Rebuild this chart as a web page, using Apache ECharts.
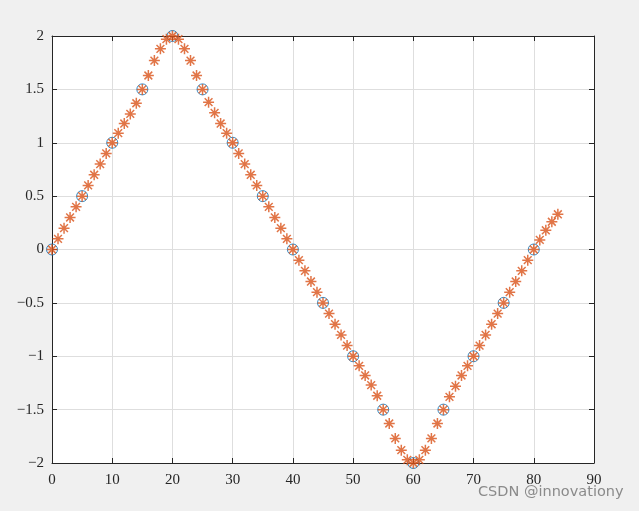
<!DOCTYPE html>
<html>
<head>
<meta charset="utf-8">
<script src="https://cdn.jsdelivr.net/npm/echarts@6/dist/echarts.min.js"></script>
<style>
html,body{margin:0;padding:0;background:#f0f0f0;}
#c{width:639px;height:511px;}
</style>
</head>
<body>
<div id="c"></div>
<script>
// Sample points (circles)
const circleX = [0,5,10,15,20,25,30,35,40,45,50,55,60,65,70,75,80];
const circleY = [0,0.5,1,1.5,2,1.5,1,0.5,0,-0.5,-1,-1.5,-2,-1.5,-1,-0.5,0];
// Query points (asterisks), x = 0..84
const starX = [0,1,2,3,4,5,6,7,8,9,10,11,12,13,14,15,16,17,18,19,20,21,22,23,24,25,26,27,28,29,30,31,32,33,34,35,36,37,38,39,40,41,42,43,44,45,46,47,48,49,50,51,52,53,54,55,56,57,58,59,60,61,62,63,64,65,66,67,68,69,70,71,72,73,74,75,76,77,78,79,80,81,82,83,84];
const starY = [
  0,0.1,0.2,0.3,0.4,0.5,0.6,0.7,0.8,0.9,
  1.0,1.09,1.18,1.27,1.37,1.5,1.63,1.77,1.88,1.97,
  2.0,1.97,1.88,1.77,1.63,1.5,1.38,1.28,1.18,1.09,
  1.0,0.9,0.8,0.7,0.6,0.5,0.4,0.3,0.2,0.1,
  0,-0.1,-0.2,-0.3,-0.4,-0.5,-0.6,-0.7,-0.8,-0.9,
  -1.0,-1.09,-1.18,-1.27,-1.37,-1.5,-1.63,-1.77,-1.88,-1.97,
  -2.0,-1.97,-1.88,-1.77,-1.63,-1.5,-1.38,-1.28,-1.18,-1.09,
  -1.0,-0.9,-0.8,-0.7,-0.6,-0.5,-0.4,-0.3,-0.2,-0.1,
  0,0.09,0.18,0.26,0.33
];
const xTicks = {min:0,max:90,interval:10};
const yTicks = {min:-2,max:2,interval:0.5};

const axisColor = '#262626';
const gridColor = '#dedede';
const fontFam = '"Liberation Serif","DejaVu Serif",serif';
const fmt = v => String(v).replace('-', '\u2212');

const asterisk = 'path://M0,-10L0,10M-10,0L10,0M-7.07,-7.07L7.07,7.07M-7.07,7.07L7.07,-7.07';

const chart = echarts.init(document.getElementById('c'));
chart.setOption({
  backgroundColor: '#f0f0f0',
  animation: false,
  grid: {left:52, right:45, top:36, bottom:48, show:true, backgroundColor:'#ffffff', borderWidth:0},
  xAxis: [{
    type:'value', min:xTicks.min, max:xTicks.max, interval:xTicks.interval, position:'bottom',
    axisLine:{show:true, onZero:false, lineStyle:{color:axisColor, width:1}},
    axisTick:{show:true, inside:true, length:5, lineStyle:{color:axisColor}},
    splitLine:{show:true, lineStyle:{color:gridColor, width:1}},
    axisLabel:{color:axisColor, fontFamily:fontFam, fontSize:15, margin:10, formatter:fmt}
  },{
    type:'value', min:xTicks.min, max:xTicks.max, interval:xTicks.interval, position:'top',
    axisLine:{show:true, onZero:false, lineStyle:{color:axisColor, width:1}},
    axisTick:{show:true, inside:true, length:5, lineStyle:{color:axisColor}},
    splitLine:{show:false}, axisLabel:{show:false}
  }],
  yAxis: [{
    type:'value', min:yTicks.min, max:yTicks.max, interval:yTicks.interval, position:'left',
    axisLine:{show:true, onZero:false, lineStyle:{color:axisColor, width:1}},
    axisTick:{show:true, inside:true, length:5, lineStyle:{color:axisColor}},
    splitLine:{show:true, lineStyle:{color:gridColor, width:1}},
    axisLabel:{color:axisColor, fontFamily:fontFam, fontSize:15, margin:8, formatter:fmt}
  },{
    type:'value', min:yTicks.min, max:yTicks.max, interval:yTicks.interval, position:'right',
    axisLine:{show:true, onZero:false, lineStyle:{color:axisColor, width:1}},
    axisTick:{show:true, inside:true, length:5, lineStyle:{color:axisColor}},
    splitLine:{show:false}, axisLabel:{show:false}
  }],
  series: [{
    type:'scatter', xAxisIndex:0, yAxisIndex:0,
    data: circleX.map((x,i)=>[x, circleY[i]]),
    symbol:'circle', symbolSize:11,
    itemStyle:{color:'rgba(0,0,0,0)', borderColor:'#0072BD', borderWidth:1},
    emphasis:{disabled:true}
  },{
    type:'scatter', xAxisIndex:0, yAxisIndex:0,
    data: starX.map((x,i)=>[x, starY[i]]),
    symbol: asterisk, symbolSize:11,
    itemStyle:{color:'rgba(0,0,0,0)', borderColor:'#D95319', borderWidth:1.5},
    emphasis:{disabled:true}
  }],
  graphic: [{
    type:'text', left:478, top:485,
    style:{text:'CSDN @innovationy', fill:'rgba(120,120,120,0.85)', font:'14.5px "DejaVu Sans", sans-serif'}
  }]
});
</script>
</body>
</html>
